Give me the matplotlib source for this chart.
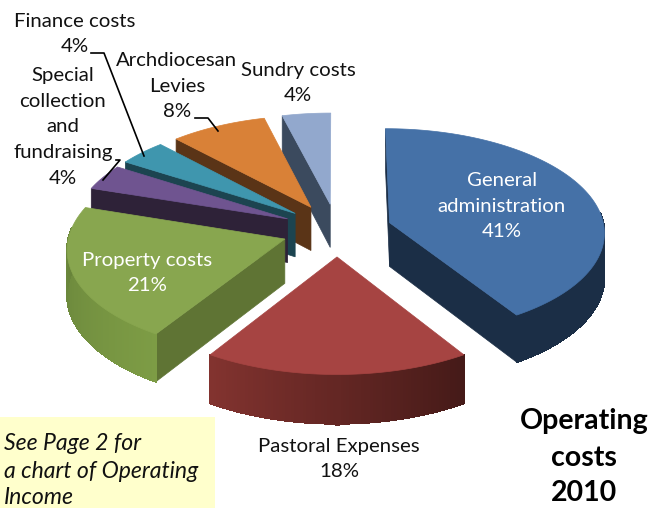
import numpy as np
import matplotlib
matplotlib.use("Agg")
import matplotlib.pyplot as plt
from matplotlib.patches import Polygon, Rectangle

# pie data, clockwise from 12 o'clock
categories = ["General\nadministration", "Pastoral Expenses", "Property costs",
              "Special\ncollection\nand\nfundraising", "Finance costs",
              "Archdiocesan\nLevies", "Sundry costs"]
values = [41, 18, 21, 4, 4, 8, 4]

top_colors = ["#4571a7", "#a64442", "#88a64f", "#6f5490", "#3f96ae", "#d98137", "#92a8cd"]
face_colors = ["#1b2e46", "#451a18", "#5f7434", "#2e2238", "#1c4450", "#5a3417", "#3b4a5e"]
# outer wall colour at the start and the end of each slice
wall_start = ["#1b2e46", "#451a18", "#7d9c45", "#2e2238", "#1c4450", "#5a3417", "#3b4a5e"]
wall_end = ["#1b2e46", "#82332f", "#647f38", "#2e2238", "#1c4450", "#5a3417", "#3b4a5e"]

# where the labels sit, in pixels
label_pos = [(502, 206), (339, 459), (147, 273), (63, 127), (75, 34), (177, 86), (298, 83)]
label_col = ["white", "#111111", "white", "#111111", "#111111", "#111111", "#111111"]

CX, CY = 337, 230
RX, RY = 215, 103
DEPTH = 44
EXPLODE = 0.256
CAM = 12.0


def project(u, v, z=0):
    f = CAM / (CAM - np.asarray(v))
    return np.column_stack([CX + RX * np.asarray(u) * f,
                            CY + RY * np.asarray(v) * f + DEPTH * z * f])


def hex_rgb(c):
    return np.array(matplotlib.colors.to_rgb(c))


fig = plt.figure(figsize=(6.54, 5.08), dpi=100)
ax = fig.add_axes([0, 0, 1, 1])
ax.set_xlim(0, 654)
ax.set_ylim(508, 0)
ax.axis("off")

plt.rcParams["font.family"] = ["Lato", "DejaVu Sans"]

edges = np.cumsum([0] + values) / sum(values) * 2 * np.pi
mids = (edges[:-1] + edges[1:]) / 2

# back slices first
for i in np.argsort(-np.cos(mids)):
    t0, t1 = edges[i], edges[i + 1]
    ou = EXPLODE * np.sin(mids[i])
    ov = -EXPLODE * np.cos(mids[i])
    t = np.linspace(t0, t1, 90)
    rim_u = ou + np.sin(t)
    rim_v = ov - np.cos(t)

    # the two cut faces
    for ang, visible in [(t0, -np.sin(t0) >= -1e-9), (t1, np.sin(t1) > 1e-9)]:
        if visible:
            eu, ev = ou + np.sin(ang), ov - np.cos(ang)
            pts = np.vstack([project([ou, eu], [ov, ev], 0),
                             project([eu, ou], [ev, ov], 1)])
            ax.add_patch(Polygon(pts, fc=face_colors[i], ec=face_colors[i], lw=0.5))

    # outer wall, strip by strip so the colour can change
    c0, c1 = hex_rgb(wall_start[i]), hex_rgb(wall_end[i])
    for k in range(len(t) - 1):
        if -np.cos(t[k]) < -0.1:
            continue
        pts = np.vstack([project(rim_u[k:k + 2], rim_v[k:k + 2], 0),
                         project(rim_u[k:k + 2][::-1], rim_v[k:k + 2][::-1], 1)])
        col = c0 + (c1 - c0) * k / (len(t) - 2)
        ax.add_patch(Polygon(pts, fc=col, ec=col, lw=0.8, antialiased=False))

    # top of the slice
    pts = np.vstack([project([ou], [ov]), project(rim_u, rim_v)])
    ax.add_patch(Polygon(pts, fc=top_colors[i], ec=top_colors[i], lw=0.5))

for i, name in enumerate(categories):
    ax.text(label_pos[i][0], label_pos[i][1], f"{name}\n{values[i]}%", color=label_col[i],
            ha="center", va="center", fontsize=14.7, linespacing=1.62)

# leader lines
ax.plot([91, 104, 144], [53, 53, 156], color="black", lw=1.2)
ax.plot([116, 120, 103], [160, 160, 180], color="black", lw=1.2)
ax.plot([195, 208, 218], [118, 118, 131], color="black", lw=1.2)

# note box
ax.add_patch(Rectangle((0, 417), 215, 91, fc="#ffffcc", ec="none"))
note = ["See Page 2 for", "a chart of Operating", "Income"]
for line, y in zip(note, [443, 471, 498]):
    ax.text(4, y, line, style="italic", fontsize=16.6, color="#111111", ha="left", va="center")

for line, y in zip(["Operating", "costs", "2010"], [421, 458, 493]):
    ax.text(584, y, line, fontweight="bold", fontsize=20.5, color="black", ha="center", va="center")

fig.savefig("out.png", dpi=100)
